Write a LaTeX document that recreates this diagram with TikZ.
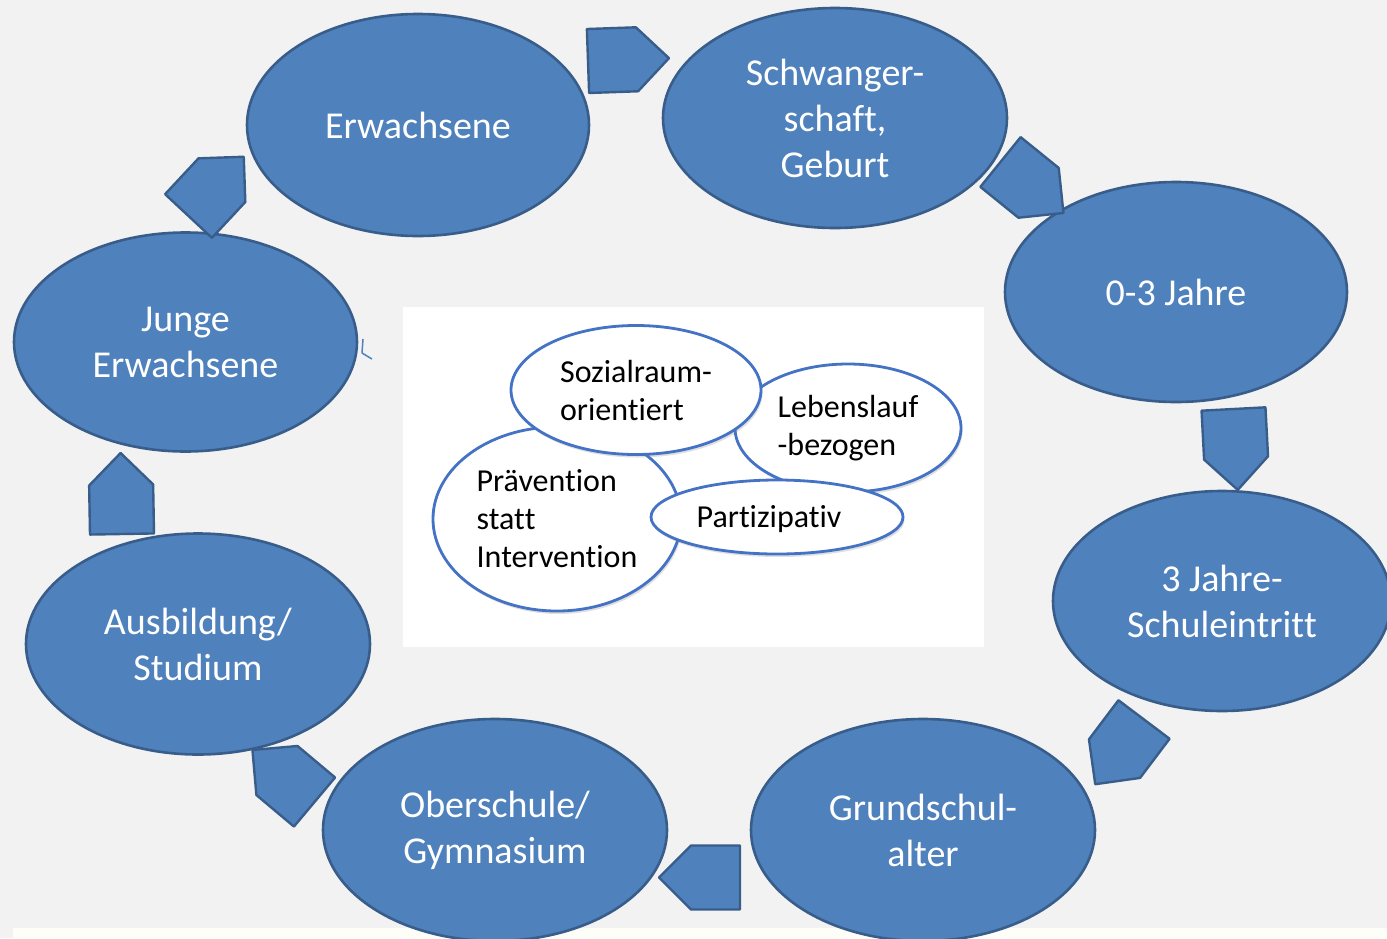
\documentclass[tikz,border=0pt]{standalone}
\usepackage{fontspec}
\setmainfont[Ligatures={NoCommon,NoContextual}, RawFeature={-liga;-clig;-dlig;-calt}]{Carlito}
\usetikzlibrary{shapes.geometric,shadows}
\definecolor{bgc}{HTML}{F2F2F2}
\definecolor{ofill}{HTML}{4F81BD}
\definecolor{oline}{HTML}{385D8A}
\definecolor{iline}{HTML}{4472C4}
\definecolor{stripc}{HTML}{FEFEF9}
\newcommand{\nolig}{\kern0pt }
\tikzset{
  outerell/.style={ellipse, draw=oline, line width=2.6pt, fill=ofill, text=white,
    inner sep=0pt, font=\fontsize{38}{46}\selectfont, align=center},
  innerell/.style={ellipse, draw=iline, line width=2.8pt, fill=white, text=black,
    inner sep=0pt, font=\fontsize{32}{38}\selectfont, align=left,
    drop shadow={opacity=0.25, shadow xshift=1.5pt, shadow yshift=-3pt}},
  platestyle/.style={fill=ofill, draw=oline, line width=2.4pt, line join=round},
  plate/.pic={\path[platestyle] (0,-32) -- (49,-32) -- (81,0) -- (49,32) -- (0,32) -- cycle;}
}
\begin{document}
\begin{tikzpicture}[x=1pt,y=1pt]
\useasboundingbox (0,0) rectangle (1387,-938);
\clip (0,0) rectangle (1387,-938);
\fill[bgc] (0,0) rectangle (1387,-938);
\fill[stripc] (13,-928) rectangle (1387,-938);

% central white panel
\node[fill=white, minimum width=581pt, minimum height=340pt, anchor=north west, inner sep=0pt] (box) at (403,-307) {};

% inner ellipses
\node[innerell, minimum width=248pt, minimum height=184pt] (praev) at (557,-519) {Prävent\nolig ion\\stat\nolig t\\Intervent\nolig ion};
\node[innerell, minimum width=226pt, minimum height=128pt] (leben) at (848,-428) {Lebenslauf\\-bezogen};
\node[innerell, minimum width=250pt, minimum height=129pt] (sozial) at (636,-390) {Sozialraum-\\orient\nolig iert};
\node[innerell, minimum width=252pt, minimum height=74pt] (partiz) at (777,-517) {};
\node[font=\fontsize{32}{38}\selectfont, inner sep=0pt] (partiztext) at (769,-519) {Part\nolig izipat\nolig iv};

% outer ellipses
\node[outerell, minimum width=342pt, minimum height=222pt] (erw) at (418,-125) {Erwachsene};
\node[outerell, minimum width=344pt, minimum height=220pt] (schw) at (835,-118) {Schwanger-\\schaf\nolig t,\\Geburt};
\node[outerell, minimum width=342pt, minimum height=220pt] (null) at (1176,-292) {0-3 Jahre};
\node[outerell, minimum width=338pt, minimum height=220pt] (drei) at (1222,-601) {3 Jahre-\\Schuleintrit\nolig t};
\node[outerell, minimum width=344pt, minimum height=222pt] (grund) at (923,-830) {Grundschul-\\alter};
\node[outerell, minimum width=344pt, minimum height=222pt] (ober) at (495,-830) {Oberschule/\\Gymnasium};
\node[outerell, minimum width=344pt, minimum height=221pt] (ausb) at (198,-644) {Ausbildung/\\Studium};
\node[outerell, minimum width=343pt, minimum height=219pt] (junge) at (185.5,-342) {Junge\\Erwachsene};

% small fragment next to "Junge Erwachsene"
\draw[ofill, line width=1.5pt, line join=round] (363,-339) -- (362,-353) -- (372,-359);

% block arrows between the stages
\pic[rotate=2]    at (588,-61)      {plate};
\pic[rotate=-39]  at (1000.5,-162)  {plate};
\pic[rotate=-87]  at (1233.5,-409)  {plate};
\pic[rotate=-127] at (1144,-719.5)  {plate};
\pic[rotate=180]  at (740,-877.5)   {plate};
\pic[rotate=140]  at (314.5,-802)   {plate};
\pic[rotate=91]   at (122,-534)     {plate};
\pic[rotate=47]   at (188.5,-216)   {plate};
\end{tikzpicture}
\end{document}
